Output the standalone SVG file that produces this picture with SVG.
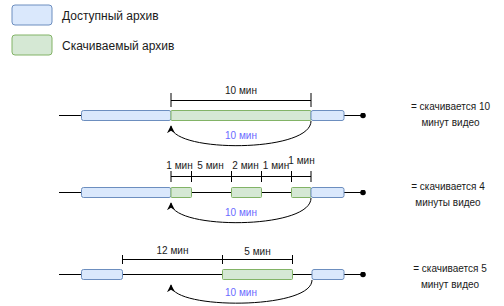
<svg xmlns="http://www.w3.org/2000/svg" width="504" height="306" viewBox="0 0 504 306">
<defs>
<style>
text{font-family:"Liberation Sans",Arial,sans-serif;fill:#1a1a1a}
.lg{font-size:12px}
.t{font-size:10px;text-anchor:middle}
.p{font-size:10px;text-anchor:middle;fill:#6b6bff}
.b{fill:#dae8fc;stroke:#6c8ebf;stroke-width:1}
.g{fill:#d5e8d4;stroke:#82b366;stroke-width:1}
.ln{stroke:#000;stroke-width:1;fill:none}
</style>
<marker id="ah" viewBox="0 0 10 10" refX="9" refY="5" markerWidth="8" markerHeight="8" orient="auto" markerUnits="userSpaceOnUse">
<path d="M0,0 L10,5 L0,10 L3,5 Z" fill="#000"/>
</marker>
<marker id="dot" viewBox="0 0 6 6" refX="3" refY="3" markerWidth="6" markerHeight="6" markerUnits="userSpaceOnUse">
<circle cx="3" cy="3" r="2.8" fill="#000"/>
</marker>
</defs>

<g id="legend-available">
<rect class="b" x="12" y="5" width="40" height="20" rx="3"/>
<text class="lg" x="62" y="19.5">Доступный архив</text>
</g>
<g id="legend-downloaded">
<rect class="g" x="12" y="35" width="40" height="20" rx="3"/>
<text class="lg" x="62" y="49.5">Скачиваемый архив</text>
</g>

<g id="connectors">
<line class="ln" x1="59" y1="115.5" x2="363" y2="115.5" marker-end="url(#dot)"/>
<line class="ln" x1="59" y1="192.5" x2="363" y2="192.5" marker-end="url(#dot)"/>
<line class="ln" x1="59" y1="274.5" x2="363" y2="274.5" marker-end="url(#dot)"/>
<path class="ln" d="M311,121 C311,153 171,153 171,126" marker-end="url(#ah)"/>
<path class="ln" d="M311,198 C311,230 171,230 171,203" marker-end="url(#ah)"/>
<path class="ln" d="M312,280 C312,310 171,310 171,285" marker-end="url(#ah)"/>
</g>

<g id="row1">
<rect class="b" x="81.5" y="110.5" width="89.5" height="10" rx="2"/>
<rect class="g" x="171" y="110.5" width="140" height="10" rx="1"/>
<rect class="b" x="311" y="110.5" width="33" height="10" rx="2"/>
<path class="ln" d="M171,100.5 H311 M171,93 V107 M311,93 V107"/>
<text class="t" x="241" y="94">10 мин</text>
<text class="p" x="241" y="138.5">10 мин</text>
<text class="t" x="450.5" y="110">= скачивается 10</text>
<text class="t" x="450.5" y="126">минут видео</text>
</g>

<g id="row2">
<rect class="b" x="81.5" y="187.5" width="89.5" height="10" rx="2"/>
<rect class="g" x="171" y="187.5" width="20.5" height="10" rx="1"/>
<rect class="g" x="231.5" y="187.5" width="30" height="10" rx="1"/>
<rect class="g" x="291.5" y="187.5" width="19.5" height="10" rx="1"/>
<rect class="b" x="311" y="187.5" width="33" height="10" rx="2"/>
<path class="ln" d="M171,176.5 H311 M171,171 V182 M191.5,171 V182 M231.5,171 V182 M261.5,171 V182 M291.5,171 V182 M311,171 V182"/>
<text class="t" x="179.5" y="168.5">1 мин</text>
<text class="t" x="210.5" y="168.5">5 мин</text>
<text class="t" x="245.5" y="168.5">2 мин</text>
<text class="t" x="276" y="168.5">1 мин</text>
<text class="t" x="301.5" y="163.5">1 мин</text>
<text class="p" x="241" y="216">10 мин</text>
<text class="t" x="448" y="190">= скачивается 4</text>
<text class="t" x="448" y="206">минуты видео</text>
</g>

<g id="row3">
<rect class="b" x="81.5" y="269.5" width="41" height="10" rx="2"/>
<rect class="g" x="222.5" y="269.5" width="70" height="10" rx="1"/>
<rect class="b" x="312" y="269.5" width="32" height="10" rx="2"/>
<path class="ln" d="M122.5,259.5 H292.5 M122.5,255 V264 M222.5,255 V264 M292.5,255 V264"/>
<text class="t" x="172.5" y="254">12 мин</text>
<text class="t" x="257.5" y="255">5 мин</text>
<text class="p" x="241" y="296">10 мин</text>
<text class="t" x="450" y="272">= скачивается 5</text>
<text class="t" x="450" y="288">минут видео</text>
</g>
</svg>
